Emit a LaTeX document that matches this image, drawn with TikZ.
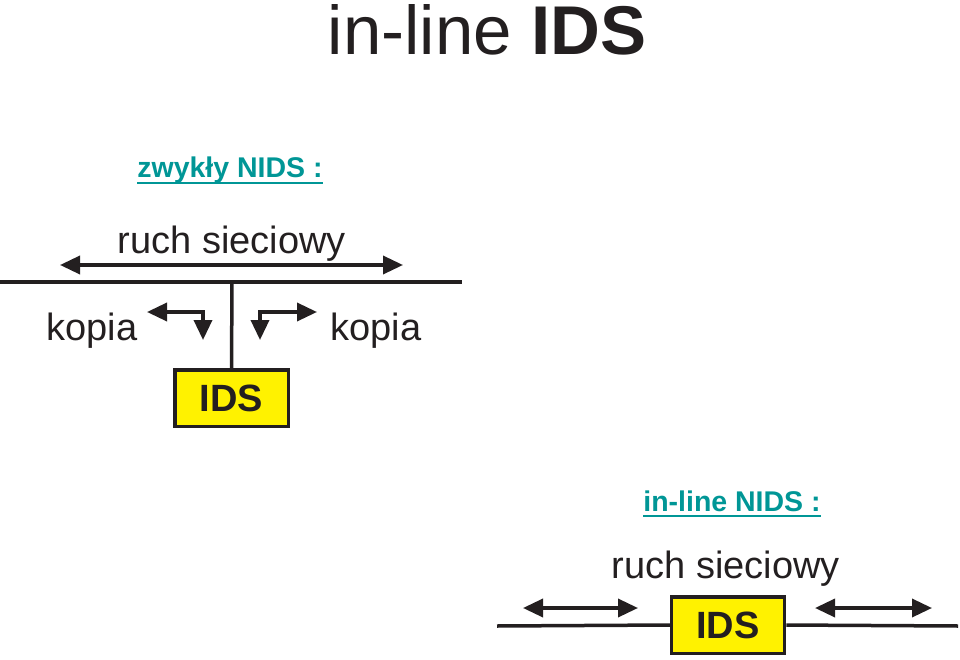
\documentclass[tikz,border=0pt]{standalone}
\usepackage{fontspec}
\setmainfont{Liberation Sans}
\usetikzlibrary{arrows.meta}
\definecolor{nidsteal}{RGB}{0,150,150}
\definecolor{ink}{RGB}{35,31,32}
\begin{document}
\begin{tikzpicture}[x=1pt,y=-1pt,color=ink,
  wire/.style={line width=3.5pt,draw=ink},
  dbl/.style={line width=3.5pt,draw=ink,{Triangle[length=20pt,width=18pt]}-{Triangle[length=20pt,width=18pt]}},
  idsbox/.style={draw=ink,line width=3.5pt,fill=yellow,text=ink,minimum width=113.5pt,minimum height=56.5pt,inner sep=0pt,font=\fontsize{38}{38}\selectfont\bfseries},
  lbl/.style={inner sep=0pt,anchor=base,text=ink,font=\fontsize{38}{38}\selectfont},
  head/.style={inner sep=0pt,anchor=base,text=nidsteal,font=\fontsize{28.5}{28.5}\selectfont\bfseries},
  uline/.style={line width=2.5pt,draw=nidsteal}]
\useasboundingbox (0,0) rectangle (960,660);
% title
\node[inner sep=0pt,anchor=base,text=ink,font=\fontsize{69}{69}\selectfont] (title) at (487,55) {in-line \textbf{IDS}};
% ---- upper part
\node[head] (h1) at (230,178) {zwykły NIDS :};
\draw[uline] ([yshift=-5pt]h1.base west) -- ([yshift=-5pt]h1.base east);
\node[lbl] (r1) at (232,253) {ruch sieciowy};
\coordinate (a1) at (60,265);
\coordinate (a2) at (403,265);
\draw[dbl] (a1) -- (a2);
\coordinate (l1) at (0,282);
\coordinate (l2) at (462,282);
\coordinate (j) at (232,282);
\draw[wire] (l1) -- (l2);
\node[idsbox] (ids1) at (231.5,398) {IDS};
\draw[wire] (j) -- (ids1.north);
\node[lbl] (k1) at (92,340) {kopia};
\node[lbl] (k2) at (376,340) {kopia};
\coordinate (c1) at (147,312);
\coordinate (c2) at (203,340);
\draw[dbl] (c1) -- (203,312) -- (c2);
\coordinate (c3) at (260,340);
\coordinate (c4) at (317,312);
\draw[dbl] (c3) -- (260,312) -- (c4);
% ---- lower part
\node[head] (h2) at (732,511) {in-line NIDS :};
\draw[uline] ([yshift=-5pt]h2.base west) -- ([yshift=-5pt]h2.base east);
\node[lbl] (r2) at (726,578) {ruch sieciowy};
\node[idsbox,minimum width=113pt] (ids2) at (728,625) {IDS};
\coordinate (b1) at (497,626);
\coordinate (b2) at (958,626);
\draw[wire] (b1) -- (ids2.west);
\draw[wire] (ids2.east) -- (b2);
\coordinate (d1) at (523,608);
\coordinate (d2) at (638,608);
\draw[dbl] (d1) -- (d2);
\coordinate (d3) at (815,608);
\coordinate (d4) at (932,608);
\draw[dbl] (d3) -- (d4);
\end{tikzpicture}
\end{document}
